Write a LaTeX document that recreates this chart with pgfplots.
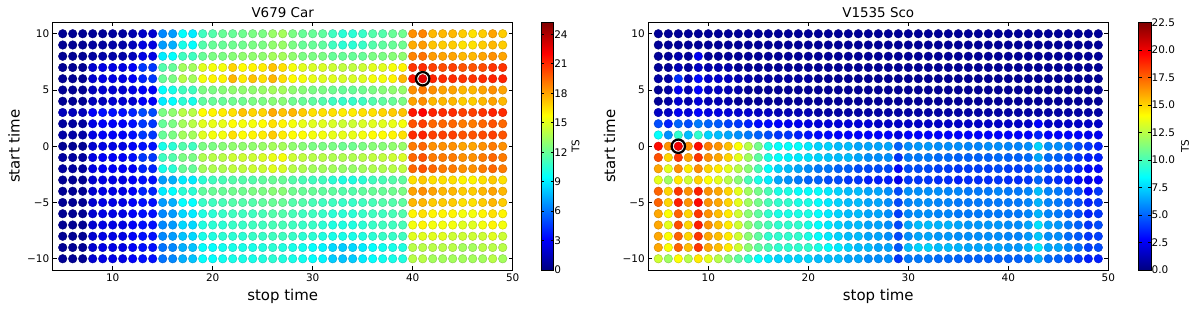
\documentclass[border=0pt]{standalone}
\usepackage{fontspec}
\setmainfont{DejaVu Sans}
\usepackage{pgfplots}
\usepackage{pgfplotstable}
\pgfplotsset{compat=1.18}

% V679 Car: rows = start time, columns s5..s49 = stop time, values = TS
\pgfplotstableread{
y s5 s6 s7 s8 s9 s10 s11 s12 s13 s14 s15 s16 s17 s18 s19 s20 s21 s22 s23 s24 s25 s26 s27 s28 s29 s30 s31 s32 s33 s34 s35 s36 s37 s38 s39 s40 s41 s42 s43 s44 s45 s46 s47 s48 s49
10 0.5 0.5 0.5 0.6 0.6 0.8 0.8 1.2 1.8 2.0 6.5 7.0 9.5 9.0 11.0 11.5 12.0 12.0 12.2 12.5 12.5 13.2 13.5 12.5 12.0 12.0 11.8 11.0 10.5 10.5 10.8 11.5 11.5 12.0 12.2 18.5 18.8 17.5 17.5 17.5 17.0 16.5 17.0 18.0 17.0
9 0.5 0.5 0.5 0.8 0.8 1.0 1.0 1.5 2.4 2.4 7.0 7.5 10.0 9.5 11.5 12.0 12.0 12.2 12.2 12.5 12.5 13.0 13.2 12.5 12.0 12.0 11.8 11.0 10.5 10.5 10.8 11.5 11.8 12.0 12.2 17.8 18.2 17.2 17.0 17.0 16.5 16.5 17.0 17.5 17.0
8 0.5 0.5 0.5 0.8 1.0 1.0 1.0 1.5 2.5 2.5 9.0 9.5 11.0 11.0 12.0 12.5 12.5 12.8 13.0 13.0 13.0 13.5 13.5 13.0 12.5 12.5 12.5 12.0 12.0 12.0 12.0 12.5 12.5 12.8 13.0 18.8 19.2 18.2 18.0 18.0 17.5 17.5 18.0 18.5 18.0
7 0.5 0.5 0.5 2.0 2.5 2.5 2.5 3.0 4.5 4.5 11.5 12.0 13.5 13.5 15.0 15.5 15.5 16.8 15.8 16.0 16.2 17.2 16.5 15.5 15.0 14.8 14.8 14.5 14.2 14.2 14.5 15.0 15.0 15.5 16.0 20.8 21.0 20.5 20.2 20.5 20.0 20.0 20.2 20.8 20.8
6 0.5 0.5 0.5 2.0 2.5 2.5 2.5 3.0 4.0 4.5 12.0 12.5 14.0 13.5 15.5 16.0 16.0 17.5 16.2 17.2 16.5 17.5 16.5 15.8 15.5 15.2 15.0 15.0 14.8 14.8 15.0 15.5 15.5 16.0 17.5 21.5 22.8 21.2 21.0 21.0 20.8 20.8 21.0 21.2 21.2
5 0.5 0.5 0.5 1.5 2.0 2.0 2.0 2.5 3.0 3.0 9.5 10.0 11.0 11.0 12.5 12.5 12.8 13.0 13.0 13.0 13.2 13.5 13.5 13.0 12.8 12.5 12.5 12.2 12.0 12.0 12.2 12.5 12.8 13.0 13.2 18.5 19.0 18.5 18.0 18.0 17.5 17.5 18.0 18.5 18.0
4 0.5 0.5 0.5 1.5 1.5 2.0 2.0 2.0 3.0 3.0 9.0 9.5 10.5 10.0 11.8 12.0 12.0 12.2 12.2 12.5 12.5 12.8 12.8 12.2 12.0 11.8 11.5 11.0 10.8 10.8 11.0 11.5 11.8 12.0 12.5 18.0 18.5 17.5 17.5 17.5 17.0 17.0 17.5 18.0 17.5
3 1.5 1.5 1.5 3.0 3.5 3.5 3.5 4.0 5.0 5.0 12.5 13.0 14.0 14.0 15.8 16.0 16.2 16.5 17.2 16.8 16.8 17.8 17.2 17.5 17.0 16.5 16.5 16.5 16.2 16.2 16.5 16.5 16.8 17.0 17.2 21.5 22.0 21.2 21.0 21.0 20.5 20.5 20.8 21.2 21.0
2 0.8 0.8 0.8 2.5 3.0 3.0 3.0 3.5 4.5 4.5 12.0 12.5 13.5 14.0 15.0 15.2 15.2 15.8 15.5 15.5 15.8 16.5 16.0 15.5 15.2 15.0 15.0 14.8 14.5 14.5 14.8 15.0 15.0 15.2 15.5 20.0 20.5 19.5 19.5 19.5 19.0 19.0 19.5 20.0 19.5
1 1.0 1.0 1.0 2.5 3.0 3.0 3.0 3.5 4.5 4.5 12.0 12.5 13.5 13.5 15.0 15.5 15.5 16.5 15.8 16.0 16.2 17.0 16.2 15.8 15.8 15.5 15.5 15.2 15.2 15.2 15.5 15.8 15.8 16.0 16.5 21.0 21.2 20.5 20.5 20.5 20.0 20.0 20.2 20.5 20.0
0 0.5 0.5 0.5 2.0 2.5 2.5 2.5 3.0 3.5 3.5 10.0 10.5 11.5 11.0 12.5 12.5 12.8 13.0 13.0 13.0 13.2 13.5 13.5 13.0 12.8 12.5 12.5 12.5 12.2 12.2 12.5 12.8 12.8 13.0 13.2 19.0 19.5 18.5 18.5 18.5 18.0 18.0 18.5 19.0 18.5
-1 0.8 0.8 0.8 2.5 3.0 3.0 3.0 3.5 4.5 4.5 11.0 11.5 12.5 12.5 13.8 14.0 14.0 14.5 14.5 14.5 14.8 15.2 15.5 14.5 14.2 14.0 14.0 13.8 13.8 13.8 14.0 14.2 14.2 14.5 14.8 19.5 20.0 19.0 19.0 19.0 18.5 18.5 19.0 19.5 19.0
-2 0.8 0.8 0.8 2.5 3.0 3.0 3.0 3.0 4.0 4.0 10.0 10.5 12.0 12.0 13.5 13.8 13.8 14.2 14.2 14.5 14.5 15.0 14.8 14.0 13.8 13.5 13.5 13.5 13.2 13.2 13.5 13.8 13.8 14.0 14.2 19.5 20.0 19.5 19.0 19.0 18.5 18.5 19.0 19.5 19.0
-3 0.5 0.5 0.5 2.0 2.5 2.5 2.5 3.0 3.5 3.5 7.0 7.5 9.0 9.0 10.5 11.0 11.2 11.5 11.5 11.5 11.8 12.0 12.0 11.5 11.2 11.0 11.0 10.5 10.2 10.2 10.5 11.0 11.2 11.5 11.8 16.5 17.0 16.5 16.5 16.5 16.0 16.0 16.5 17.0 16.5
-4 0.5 0.5 0.5 2.0 2.5 2.5 2.5 3.0 4.0 4.0 9.0 9.5 10.5 10.5 11.8 12.0 12.0 12.2 12.2 12.5 12.5 12.8 12.8 12.2 12.0 12.0 11.8 11.8 11.5 11.5 11.8 12.0 12.0 12.2 12.5 18.0 18.5 18.0 17.5 17.5 17.0 17.0 17.5 18.0 17.5
-5 0.5 0.5 0.5 2.0 2.5 2.5 2.5 3.0 3.5 3.5 7.0 7.5 9.5 9.5 10.8 11.0 11.2 11.5 11.5 11.5 11.8 12.0 12.0 11.5 11.5 11.2 11.0 11.0 10.8 10.8 11.0 11.2 11.5 11.5 11.8 17.5 17.5 17.0 17.0 17.0 16.5 16.5 17.0 17.5 17.0
-6 0.5 0.5 0.5 2.0 2.5 2.5 2.5 3.0 3.5 3.5 6.5 7.0 8.5 9.0 10.2 10.5 10.8 11.0 11.0 11.0 11.2 11.5 11.5 11.2 11.0 11.0 10.8 10.5 10.5 10.5 10.8 11.0 11.0 11.2 11.5 16.0 16.5 16.0 16.0 16.0 15.5 15.5 16.0 16.5 16.0
-7 0.5 0.5 0.5 2.0 2.5 2.5 2.5 3.0 3.5 3.5 6.5 7.0 8.5 8.5 10.2 10.5 10.5 10.8 10.8 11.0 11.0 11.2 11.2 11.0 10.8 10.8 10.5 10.2 10.2 10.2 10.5 10.8 11.0 11.0 11.2 15.5 16.0 15.5 15.5 15.5 15.0 15.0 15.5 16.0 15.5
-8 0.5 0.5 0.5 2.0 2.5 2.5 2.5 3.0 3.5 3.5 6.5 7.0 8.0 8.5 10.0 10.2 10.5 10.5 10.5 10.8 10.8 11.0 11.0 10.8 10.5 10.5 10.2 10.0 10.0 10.0 10.2 10.5 10.8 10.8 11.0 15.0 15.0 15.0 15.0 14.5 14.5 14.5 14.5 15.0 14.5
-9 0.5 0.5 0.5 2.0 2.5 2.5 2.5 3.0 3.5 3.5 6.0 6.5 7.5 8.0 9.5 9.5 9.8 10.0 10.0 10.0 10.2 10.5 10.2 10.0 9.8 9.5 9.2 8.5 8.2 8.5 9.0 9.5 9.8 10.0 10.2 14.0 14.0 14.0 14.0 14.0 13.5 13.5 14.0 14.0 14.0
-10 0.5 0.5 0.5 2.0 2.5 2.5 2.5 3.0 3.5 3.5 6.0 6.5 7.5 8.0 9.5 9.5 9.8 10.0 10.0 10.0 10.2 10.5 10.2 10.0 9.8 9.5 9.2 8.2 8.0 8.2 9.0 9.5 9.8 10.0 10.2 14.0 14.0 13.5 13.5 13.5 13.5 13.5 13.5 14.0 13.5
}\dataA

% V1535 Sco
\pgfplotstableread{
y s5 s6 s7 s8 s9 s10 s11 s12 s13 s14 s15 s16 s17 s18 s19 s20 s21 s22 s23 s24 s25 s26 s27 s28 s29 s30 s31 s32 s33 s34 s35 s36 s37 s38 s39 s40 s41 s42 s43 s44 s45 s46 s47 s48 s49
10 0.5 0.5 0.5 0.5 0.5 0.5 0.5 0.5 0.5 0.5 0.5 0.5 0.5 0.5 0.5 0.5 0.5 0.5 0.5 0.5 0.5 0.5 0.5 0.5 0.5 0.5 0.5 0.5 0.5 0.5 0.5 0.5 0.5 0.5 0.5 0.5 0.5 0.5 0.5 0.5 0.5 0.5 0.5 0.5 0.5
9 0.5 0.5 0.5 0.5 0.5 0.5 0.5 0.5 0.5 0.5 0.5 0.5 0.5 0.5 0.5 0.5 0.5 0.5 0.5 0.5 0.5 0.5 0.5 0.5 0.5 0.5 0.5 0.5 0.5 0.5 0.5 0.5 0.5 0.5 0.5 0.5 0.5 0.5 0.5 0.5 0.5 0.5 0.5 0.5 0.5
8 0.5 0.5 1.0 0.5 2.5 0.5 0.5 0.5 0.5 0.5 0.5 0.5 0.5 0.5 0.5 0.5 0.5 0.5 0.5 0.5 0.5 0.5 0.5 0.5 0.5 0.5 0.5 0.5 0.5 0.5 0.5 0.5 0.5 0.5 0.5 0.5 0.5 0.5 0.5 0.5 0.5 0.5 0.5 0.5 0.5
7 0.5 0.5 1.2 0.6 1.5 1.0 1.0 1.0 0.5 0.5 0.5 0.5 0.5 0.5 0.5 0.5 0.5 0.5 0.5 0.5 0.5 0.5 0.5 0.5 0.5 0.5 0.5 0.5 0.5 0.5 0.5 0.5 0.5 0.5 0.5 0.5 0.5 0.5 0.5 0.5 0.5 0.5 0.5 0.5 0.5
6 0.8 0.8 3.8 1.2 3.0 1.8 1.8 1.5 1.2 1.0 0.8 0.8 0.8 0.8 0.8 0.8 0.5 0.5 0.5 0.5 0.5 0.5 0.5 0.5 0.5 0.5 0.5 0.5 0.5 0.5 0.5 0.5 0.5 0.5 0.5 0.5 0.5 0.5 0.5 0.5 0.5 0.5 0.5 0.5 0.5
5 0.5 0.8 2.5 1.2 2.8 1.5 1.5 1.2 1.0 0.5 0.5 0.5 0.5 0.5 0.5 0.5 0.5 0.5 0.5 0.5 0.5 0.5 0.5 0.5 0.5 0.5 0.5 0.5 0.5 0.5 0.5 0.5 0.5 0.5 0.5 0.5 0.5 0.5 0.5 0.5 0.5 0.5 0.5 0.5 0.5
4 0.5 0.8 1.8 1.0 2.0 1.2 1.2 1.0 0.5 0.5 0.5 0.5 0.5 0.5 0.5 0.5 0.5 0.5 0.5 0.5 0.5 0.5 0.5 0.5 0.5 0.5 0.5 0.5 0.5 0.5 0.5 0.5 0.5 0.5 0.5 0.5 0.5 0.5 0.5 0.5 0.5 0.5 0.5 0.5 0.5
3 1.5 1.5 2.5 2.0 2.8 2.2 2.2 2.0 1.8 1.8 1.5 1.5 1.2 1.2 1.2 1.2 0.8 0.8 0.8 0.8 0.8 0.8 0.8 0.8 0.8 0.8 0.8 0.8 0.8 0.8 0.8 0.8 0.8 0.8 0.8 0.8 0.8 0.8 0.8 0.8 0.8 0.8 0.8 0.8 0.8
2 4.5 3.5 5.0 4.5 5.5 5.0 4.8 4.2 4.0 3.5 3.0 3.0 2.8 2.5 2.5 2.2 2.0 2.0 2.0 2.0 2.0 2.0 1.6 1.6 1.6 1.6 1.6 1.6 1.6 1.6 1.6 1.6 1.6 1.6 1.6 1.6 1.6 1.6 2.8 1.6 1.6 1.6 1.6 1.6 1.6
1 8.5 6.0 9.5 7.0 9.5 7.5 7.0 6.5 6.0 5.5 5.0 4.5 4.0 4.0 3.5 3.2 3.0 3.0 2.8 2.8 2.8 2.8 2.8 2.8 2.2 2.8 2.8 2.8 2.8 2.8 2.8 2.8 2.8 2.8 2.8 2.8 2.8 2.8 3.5 2.8 2.8 2.8 2.8 2.5 2.5
0 19.5 16.5 20.0 16.5 19.5 17.0 16.5 15.5 14.0 12.5 11.0 9.0 8.5 8.5 8.5 8.0 7.5 7.5 7.0 7.0 6.5 6.5 6.5 6.5 5.0 6.0 6.2 6.2 6.0 6.0 6.0 5.8 5.8 6.0 6.0 5.8 5.8 6.0 7.5 6.0 6.0 5.5 4.5 4.0 3.5
-1 18.0 15.0 18.5 16.0 18.5 16.5 16.0 15.0 13.5 12.0 10.5 9.0 8.5 8.2 8.0 7.8 7.5 7.2 7.0 7.0 6.5 6.0 6.0 6.0 4.0 5.5 5.5 5.5 5.2 5.2 5.0 5.0 5.0 5.0 5.2 5.0 5.0 5.2 6.5 5.2 5.0 4.5 4.0 3.5 3.5
-2 16.0 13.5 16.5 14.5 16.5 15.0 14.5 13.5 12.5 11.5 10.0 8.5 7.5 7.0 6.5 6.0 5.5 5.5 5.0 5.0 4.5 4.5 4.5 4.5 3.0 4.5 4.5 4.5 4.2 4.2 4.0 4.2 4.2 4.2 4.5 4.2 4.2 4.5 5.5 4.5 4.2 4.0 3.5 3.0 3.0
-3 13.5 12.0 14.5 13.0 15.0 14.0 13.5 12.5 11.5 10.0 9.0 8.0 6.5 6.0 5.5 5.0 5.0 4.5 4.5 4.0 4.0 3.5 3.5 3.5 2.5 4.0 4.0 4.0 3.8 3.8 3.5 3.8 3.8 3.8 4.0 3.8 3.8 4.0 5.0 4.0 3.8 3.5 3.0 2.5 2.8
-4 17.5 15.0 18.5 16.5 19.0 16.5 16.0 15.0 13.5 12.0 11.0 10.0 9.0 9.0 8.5 8.5 8.5 8.0 7.5 7.0 7.0 6.5 6.5 6.0 4.5 6.0 6.0 6.0 6.0 5.8 5.8 5.5 5.5 5.5 5.8 5.5 5.5 5.8 7.0 5.8 5.5 5.0 4.5 3.0 4.0
-5 17.5 15.0 19.0 16.5 19.5 16.5 16.0 15.0 13.5 12.0 11.0 10.0 9.5 9.5 9.0 9.0 8.5 8.0 7.5 7.0 7.0 6.5 6.5 6.0 4.5 5.8 6.0 6.0 5.8 5.8 5.5 5.5 5.5 5.5 5.5 5.5 5.5 5.8 6.8 5.8 5.5 5.0 4.5 3.5 4.0
-6 16.0 14.0 17.5 15.0 18.5 16.5 15.5 14.5 13.0 11.5 10.5 9.5 9.0 9.0 9.0 9.0 8.5 8.0 7.5 7.0 7.0 6.5 6.5 6.0 4.2 5.8 6.0 6.0 5.8 5.8 5.5 5.5 5.5 5.5 5.5 5.5 5.5 5.8 6.8 5.8 5.5 5.0 4.5 3.5 4.0
-7 16.0 13.5 18.0 15.0 19.0 16.5 15.5 14.5 13.0 11.5 10.5 10.0 9.5 9.5 9.5 9.0 8.5 8.0 7.5 7.0 7.0 6.5 6.5 6.0 4.5 6.5 7.0 7.0 6.8 6.8 6.5 6.2 6.2 6.2 6.2 6.0 6.0 6.5 7.8 6.5 6.2 5.5 5.0 4.0 4.5
-8 16.0 14.0 17.5 15.0 18.5 16.0 15.5 14.5 13.0 11.5 10.5 9.5 9.5 9.5 9.5 9.0 8.5 8.0 7.5 7.0 7.0 6.5 6.5 6.0 4.5 6.0 6.5 6.5 6.2 6.2 6.0 6.0 6.0 6.0 6.0 5.8 5.8 6.2 7.2 6.0 6.0 5.2 4.8 4.0 4.2
-9 16.0 14.0 17.5 15.5 18.5 16.0 15.5 14.5 13.0 11.5 10.5 10.0 9.5 9.5 9.5 9.5 9.0 8.5 8.0 7.5 7.0 7.0 6.5 6.5 4.8 7.0 7.5 7.5 7.0 7.0 6.8 6.5 6.5 6.5 6.5 6.2 6.2 6.8 8.0 6.5 6.5 5.8 5.2 4.2 4.5
-10 13.0 12.0 14.0 12.5 14.5 13.5 12.5 11.5 10.5 9.5 8.5 8.0 7.5 7.5 7.5 7.5 7.0 7.0 7.0 6.5 6.5 6.0 6.0 6.0 4.0 5.5 5.5 5.5 5.2 5.2 5.0 5.0 5.0 5.0 5.0 5.0 5.0 5.2 6.5 5.2 5.0 4.5 4.0 3.5 3.5
}\dataB

\pgfplotsset{
  panel/.style={
    scale only axis, width=460bp, height=247.5bp,
    xmin=4, xmax=50, ymin=-11, ymax=11,
    xtick={10,20,30,40,50}, xticklabels={10,20,30,40,50},
    ytick={-10,-5,0,5,10}, yticklabels={−10,−5,0,5,10},
    tick label style={font=\fontsize{10.5}{12}\selectfont},
    label style={font=\fontsize{15}{18}\selectfont},
    xlabel={stop time}, ylabel={start time},
    xlabel style={at={(axis description cs:0.5,-0.105)}, anchor=center},
    ylabel style={at={(axis description cs:-0.084,0.5)}, anchor=center},
    every axis title/.style={font=\fontsize{13.5}{16}\selectfont, at={(axis description cs:0.5,1.039)}, anchor=center},
    colormap/jet,
    axis line style={line width=0.8bp},
    major tick length=4bp,
    tick style={line width=0.6bp, black},
    colorbar,
  },
  dots/.style={scatter, only marks, mark=*, mark size=4.3bp, point meta=explicit},
}

\begin{document}
\begin{tikzpicture}
\begin{axis}[panel, at={(52.7bp,40bp)}, anchor=south west,
  title={V679 Car},
  point meta min=0, point meta max=25.2,
  colorbar style={at={(parent axis.north east)}, anchor=north west, xshift=20bp,
    width=12.6bp, ytick={0,3,6,9,12,15,18,21,24},
    yticklabels={0,3,6,9,12,15,18,21,24},
    yticklabel style={font=\fontsize{10.5}{12}\selectfont, xshift=-3bp},
    ylabel={TS}, ylabel style={font=\fontsize{10.5}{12}\selectfont, at={(axis description cs:2.72,0.5)}, anchor=center},
    major tick length=3bp, axis line style={line width=0.8bp}}]
\pgfplotsinvokeforeach{5,...,49}{
  \addplot[dots] table[x expr=#1, y=y, meta=s#1] {\dataA};
}
\addplot[only marks, mark=o, mark size=6.7bp, line width=2.2bp, black] coordinates {(41,6)};
\end{axis}

\begin{axis}[panel, at={(648.3bp,40bp)}, anchor=south west,
  title={V1535 Sco},
  point meta min=0, point meta max=22.5,
  colorbar style={at={(parent axis.north east)}, anchor=north west, xshift=21.7bp,
    width=12.6bp, ytick={0,2.5,5,7.5,10,12.5,15,17.5,20,22.5},
    yticklabels={0.0,2.5,5.0,7.5,10.0,12.5,15.0,17.5,20.0,22.5},
    yticklabel style={font=\fontsize{10.5}{12}\selectfont, xshift=-3bp},
    ylabel={TS}, ylabel style={font=\fontsize{10.5}{12}\selectfont, at={(axis description cs:3.7,0.5)}, anchor=center},
    major tick length=3bp, axis line style={line width=0.8bp}}]
\pgfplotsinvokeforeach{5,...,49}{
  \addplot[dots] table[x expr=#1, y=y, meta=s#1] {\dataB};
}
\addplot[only marks, mark=o, mark size=6.7bp, line width=2.2bp, black] coordinates {(7,0)};
\end{axis}
\pgfresetboundingbox
\path (0,0) rectangle (1200bp,310bp);
\end{tikzpicture}
\end{document}
